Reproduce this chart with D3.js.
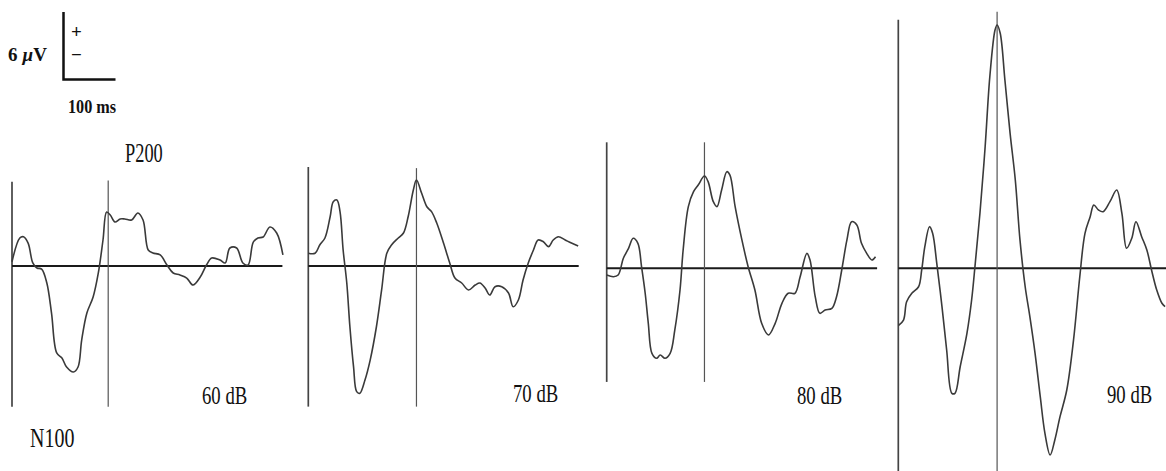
<!DOCTYPE html>
<html>
<head>
<meta charset="utf-8">
<script src="https://cdn.jsdelivr.net/npm/d3@7"></script>
<style>
  html, body { margin: 0; padding: 0; background: #fff; }
  svg { display: block; }
  text { font-family: "Liberation Serif", "Times New Roman", serif; fill: #111; }
</style>
</head>
<body>
<svg id="chart" width="1166" height="471"></svg>
<script>
// Grand-average auditory ERP waveforms at four stimulus intensities.
// Time in ms from stimulus onset, amplitude in µV (positive up).

const levels = ["60 dB", "70 dB", "80 dB", "90 dB"];
const p200Latency = [185, 208, 188, 190]; // ms, marked by the vertical cursor

const time60 = [0, 15, 22, 31, 40, 48, 57, 67, 76, 86, 96, 105, 118, 127, 134, 144, 156, 166, 175, 182, 189, 198, 208, 217, 230, 242, 252, 262, 271, 285, 298, 310, 323, 336, 348, 362, 374, 384, 400, 410, 419, 432, 444, 454, 464, 473, 483, 496, 509, 521];
const amp60 = [0.38, 2.49, 2.60, 2.04, 0.27, -0.18, -0.27, -1.51, -4.18, -7.73, -8.18, -8.98, -9.42, -8.98, -6.58, -4.18, -2.76, -0.62, 2.31, 4.80, 4.53, 3.91, 4.18, 4.18, 4.09, 4.71, 4.09, 1.42, 1.16, 0.98, 0.09, -0.62, -0.80, -1.07, -1.69, -0.98, 0.09, 0.71, 0.53, 0.27, 1.60, 1.60, 0.27, 0.09, 2.13, 2.49, 2.58, 3.47, 2.93, 0.98];

const time70 = [0, 13, 22, 32, 42, 48, 55, 61, 67, 74, 80, 87, 93, 99, 109, 119, 131, 141, 151, 160, 173, 183, 192, 202, 208, 218, 228, 237, 247, 260, 272, 282, 295, 308, 321, 330, 340, 349, 359, 372, 385, 394, 404, 413, 423, 433, 442, 452, 462, 471, 481, 494, 506, 519];
const amp70 = [1.13, 1.13, 1.87, 2.49, 4.38, 5.72, 5.87, 4.83, 1.42, -1.51, -5.40, -8.95, -11.17, -11.32, -10.13, -8.36, -5.40, -2.13, 1.13, 1.87, 2.49, 2.93, 4.38, 6.76, 7.64, 6.46, 5.27, 4.83, 3.82, 2.04, 0.27, -1.07, -1.51, -2.13, -1.69, -1.51, -1.96, -2.58, -1.84, -1.84, -2.40, -3.62, -3.02, -1.24, 0.27, 1.42, 2.31, 2.16, 1.72, 2.31, 2.60, 2.31, 2.04, 1.78];

const time80 = [0, 13, 22, 32, 42, 51, 60, 67, 74, 80, 87, 96, 103, 112, 122, 131, 141, 147, 157, 167, 176, 188, 195, 205, 212, 221, 231, 237, 247, 260, 272, 285, 298, 311, 324, 337, 349, 362, 372, 385, 391, 401, 410, 420, 433, 442, 452, 462, 471, 481, 490, 500, 510, 517];
const amp80 = [-0.60, -0.75, -0.60, 0.89, 1.78, 2.67, 2.22, 0.14, -2.22, -4.89, -7.56, -8.00, -7.71, -8.00, -7.56, -5.48, -1.93, 1.63, 5.48, 6.81, 7.40, 8.20, 7.70, 5.92, 5.48, 6.96, 8.59, 8.29, 5.48, 2.52, 0.14, -1.93, -4.89, -5.93, -4.89, -3.11, -2.22, -2.22, -0.75, 1.33, 0.74, -2.52, -4.00, -3.71, -3.56, -2.52, -0.15, 2.52, 4.14, 3.85, 2.22, 1.33, 0.74, 1.03];

const time90 = [0, 10, 16, 26, 39, 45, 51, 60, 66, 74, 84, 93, 103, 109, 119, 132, 141, 148, 157, 167, 176, 186, 190, 196, 205, 215, 225, 234, 244, 253, 263, 273, 282, 292, 301, 311, 324, 337, 349, 359, 369, 376, 385, 394, 407, 420, 430, 439, 449, 457, 468, 478, 487, 497, 507, 513];
const amp90 = [-5.10, -4.60, -2.97, -2.22, -1.64, -0.15, 1.92, 3.70, 3.11, 0.44, -3.41, -7.26, -11.11, -11.11, -8.75, -5.78, -2.82, 0.44, 4.89, 10.81, 17.03, 21.18, 21.63, 20.89, 16.74, 12.00, 7.85, 2.52, -1.64, -4.30, -7.56, -11.41, -14.67, -16.59, -15.26, -13.19, -10.82, -6.37, -0.75, 3.11, 4.59, 5.63, 5.18, 5.03, 5.92, 6.96, 4.89, 1.78, 2.67, 4.14, 2.81, 1.63, -0.15, -1.93, -3.11, -3.41];

const times = [time60, time70, time80, time90];
const amps = [amp60, amp70, amp80, amp90];

// Calibration: 100 ms and 6 µV, shared by every panel and the scale bar.
const calMs = 100, calUv = 6;
const pxPerCalMs = 52, pxPerCalUv = 67.5;
const epochMs = 520;

// Panel placement: onset x, zero-line y, vertical extent of the axes in µV,
// and where the intensity label sits.
const panels = [
  { left: 12,    base: 266,   top: 7.5,  bottom: -12.5, cursorTop: 7.6,  labelX: 202, labelY: 404 },
  { left: 308.3, base: 266,   top: 8.8,  bottom: -12.5, cursorTop: 8.7,  labelX: 513, labelY: 402 },
  { left: 606.7, base: 268.3, top: 11.2, bottom: -10.1, cursorTop: 11.2, labelX: 797, labelY: 404 },
  { left: 898.3, base: 268.3, top: 22.1, bottom: -19,   cursorTop: 22.8, labelX: 1107, labelY: 403 }
];

const svg = d3.select("#chart");

function makeScales(p) {
  const x = d3.scaleLinear().domain([0, calMs]).range([p.left, p.left + pxPerCalMs]);
  const y = d3.scaleLinear().domain([0, calUv]).range([p.base, p.base - pxPerCalUv]);
  return { x, y };
}

panels.forEach((p, i) => {
  const { x, y } = makeScales(p);
  const g = svg.append("g").attr("class", "panel");

  // onset axis
  g.append("line")
    .attr("x1", x(0)).attr("x2", x(0))
    .attr("y1", y(p.top)).attr("y2", y(p.bottom))
    .attr("stroke", "#444").attr("stroke-width", 1.7);

  // zero line
  g.append("line")
    .attr("x1", x(0)).attr("x2", x(epochMs))
    .attr("y1", y(0)).attr("y2", y(0))
    .attr("stroke", "#1a1a1a").attr("stroke-width", 2);

  // P200 cursor
  g.append("line")
    .attr("x1", x(p200Latency[i])).attr("x2", x(p200Latency[i]))
    .attr("y1", y(p.cursorTop)).attr("y2", y(p.bottom))
    .attr("stroke", "#555").attr("stroke-width", 1.2);

  // waveform
  const pts = times[i].map((t, k) => [t, amps[i][k]]);
  const line = d3.line()
    .x(d => x(d[0]))
    .y(d => y(d[1]))
    .curve(d3.curveCatmullRom.alpha(0.5));
  g.append("path")
    .datum(pts)
    .attr("d", line)
    .attr("fill", "none")
    .attr("stroke", "#3a3a3a")
    .attr("stroke-width", 1.6)
    .attr("stroke-linejoin", "round");

  g.append("text")
    .attr("transform", `translate(${p.labelX},${p.labelY}) scale(0.72,1)`)
    .attr("font-size", 26)
    .text(levels[i]);
});

// Component labels
svg.append("text")
  .attr("transform", "translate(125,162) scale(0.68,1)")
  .attr("font-size", 27)
  .text("P200");
svg.append("text")
  .attr("transform", "translate(30,447) scale(0.74,1)")
  .attr("font-size", 27)
  .text("N100");

// Calibration bar: 6 µV vertical, 100 ms horizontal
const cal = { left: 63.5, base: 79.5 };
const cx = d3.scaleLinear().domain([0, calMs]).range([cal.left, cal.left + pxPerCalMs]);
const cy = d3.scaleLinear().domain([0, calUv]).range([cal.base, cal.base - pxPerCalUv]);
const bar = svg.append("g").attr("class", "calibration");
bar.append("path")
  .attr("d", `M${cx(0)},${cy(calUv)} L${cx(0)},${cy(0)} L${cx(calMs)},${cy(0)}`)
  .attr("fill", "none").attr("stroke", "#111").attr("stroke-width", 2.5);
bar.append("text")
  .attr("x", 8).attr("y", 61)
  .attr("font-size", 19).attr("font-weight", "bold")
  .html(`${calUv} <tspan font-style="italic">µ</tspan>V`);
bar.append("text")
  .attr("x", 76.5).attr("y", 38).attr("text-anchor", "middle")
  .attr("font-size", 19).attr("font-weight", "bold")
  .text("+");
bar.append("text")
  .attr("x", 76.5).attr("y", 61).attr("text-anchor", "middle")
  .attr("font-size", 19).attr("font-weight", "bold")
  .text("−");
bar.append("text")
  .attr("transform", "translate(68,113) scale(0.9,1)")
  .attr("font-size", 18).attr("font-weight", "bold")
  .text(`${calMs} ms`);
</script>
</body>
</html>
